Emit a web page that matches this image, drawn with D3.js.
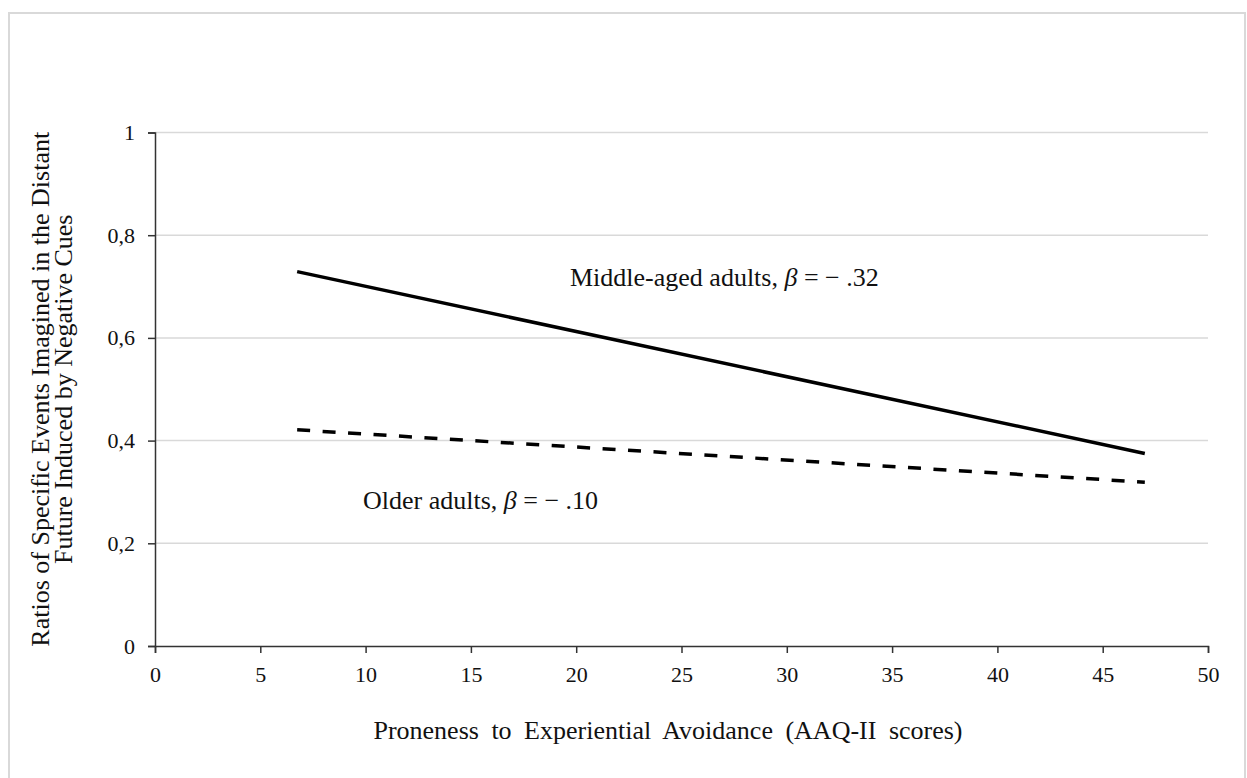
<!DOCTYPE html>
<html>
<head>
<meta charset="utf-8">
<script src="https://cdn.jsdelivr.net/npm/d3@7/dist/d3.min.js"></script>
<style>
  html, body { margin: 0; padding: 0; background: #fff; }
  svg text { font-family: "Liberation Serif", "Times New Roman", serif; fill: #111; }
</style>
</head>
<body>
<svg id="chart" width="1247" height="778"></svg>
<script>
// ---- data ----
const xTicks = [0, 5, 10, 15, 20, 25, 30, 35, 40, 45, 50];
const yTicks = [0, 0.2, 0.4, 0.6, 0.8, 1];
const yTickLabels = ["0", "0,2", "0,4", "0,6", "0,8", "1"];
const xValues = [6.75, 47];
const middleAged = [0.729, 0.375];
const older = [0.421, 0.319];
const middleLabel = ["Middle-aged adults, ", "β", " = − .32"];
const olderLabel = ["Older adults, ", "β", " = − .10"];
const xTitle = "Proneness to Experiential Avoidance (AAQ-II scores)";
const yTitle = ["Ratios of Specific Events Imagined in the Distant", "Future Induced by Negative Cues"];

// ---- layout ----
const svg = d3.select("#chart");
const x = d3.scaleLinear().domain([0, 50]).range([155, 1208]);
const y = d3.scaleLinear().domain([0, 1]).range([646, 132.5]);

// outer border
svg.append("rect")
  .attr("x", 9).attr("y", 13).attr("width", 1236).attr("height", 766)
  .attr("fill", "none").attr("stroke", "#d9d9d9").attr("stroke-width", 2);

// gridlines
svg.append("g").selectAll("line")
  .data(yTicks.filter(d => d > 0))
  .join("line")
  .attr("x1", x(0)).attr("x2", x(50))
  .attr("y1", d => y(d)).attr("y2", d => y(d))
  .attr("stroke", "#d9d9d9").attr("stroke-width", 1.5);

// axes
const yAxis = d3.axisLeft(y).tickValues(yTicks)
  .tickFormat((d, i) => yTickLabels[i]).tickSize(7).tickPadding(13);
const gy = svg.append("g").attr("transform", `translate(${x(0)},0)`).call(yAxis);
const xAxis = d3.axisBottom(x).tickValues(xTicks).tickSize(7).tickPadding(13);
const gx = svg.append("g").attr("transform", `translate(0,${y(0)})`).call(xAxis);
[gx, gy].forEach(g => {
  g.select(".domain").attr("stroke", "#333").attr("stroke-width", 1.5);
  g.selectAll(".tick line").attr("stroke", "#333").attr("stroke-width", 1.5);
  g.selectAll(".tick text")
    .style("font-family", '"Liberation Serif", "Times New Roman", serif')
    .style("font-size", "22px").attr("fill", "#111");
});
gx.selectAll(".tick text").attr("dy", "0.71em");

// lines
const line = d3.line().x(d => x(d[0])).y(d => y(d[1]));
svg.append("path")
  .datum(xValues.map((v, i) => [v, middleAged[i]]))
  .attr("d", line).attr("fill", "none")
  .attr("stroke", "#000").attr("stroke-width", 3.5);
svg.append("path")
  .datum(xValues.map((v, i) => [v, older[i]]))
  .attr("d", line).attr("fill", "none")
  .attr("stroke", "#000").attr("stroke-width", 3.5)
  .attr("stroke-dasharray", "13,12.5");

// annotations
function label(parts, px, py) {
  const t = svg.append("text").attr("x", px).attr("y", py).style("font-size", "26px");
  t.append("tspan").text(parts[0]);
  t.append("tspan").style("font-style", "italic").text(parts[1]);
  t.append("tspan").text(parts[2]);
}
label(middleLabel, 570, 286);
label(olderLabel, 363, 509);

// axis titles
svg.append("text")
  .attr("x", 668).attr("y", 739)
  .attr("text-anchor", "middle")
  .style("font-size", "26px")
  .style("word-spacing", "6px")
  .text(xTitle);

const cy = (y(0) + y(1)) / 2;
const yt = svg.append("text")
  .attr("transform", `translate(0,${cy}) rotate(-90)`)
  .attr("text-anchor", "middle")
  .style("font-size", "26px");
yt.append("tspan").attr("x", 0).attr("y", 49).text(yTitle[0]);
yt.append("tspan").attr("x", 0).attr("y", 72).text(yTitle[1]);
</script>
</body>
</html>
